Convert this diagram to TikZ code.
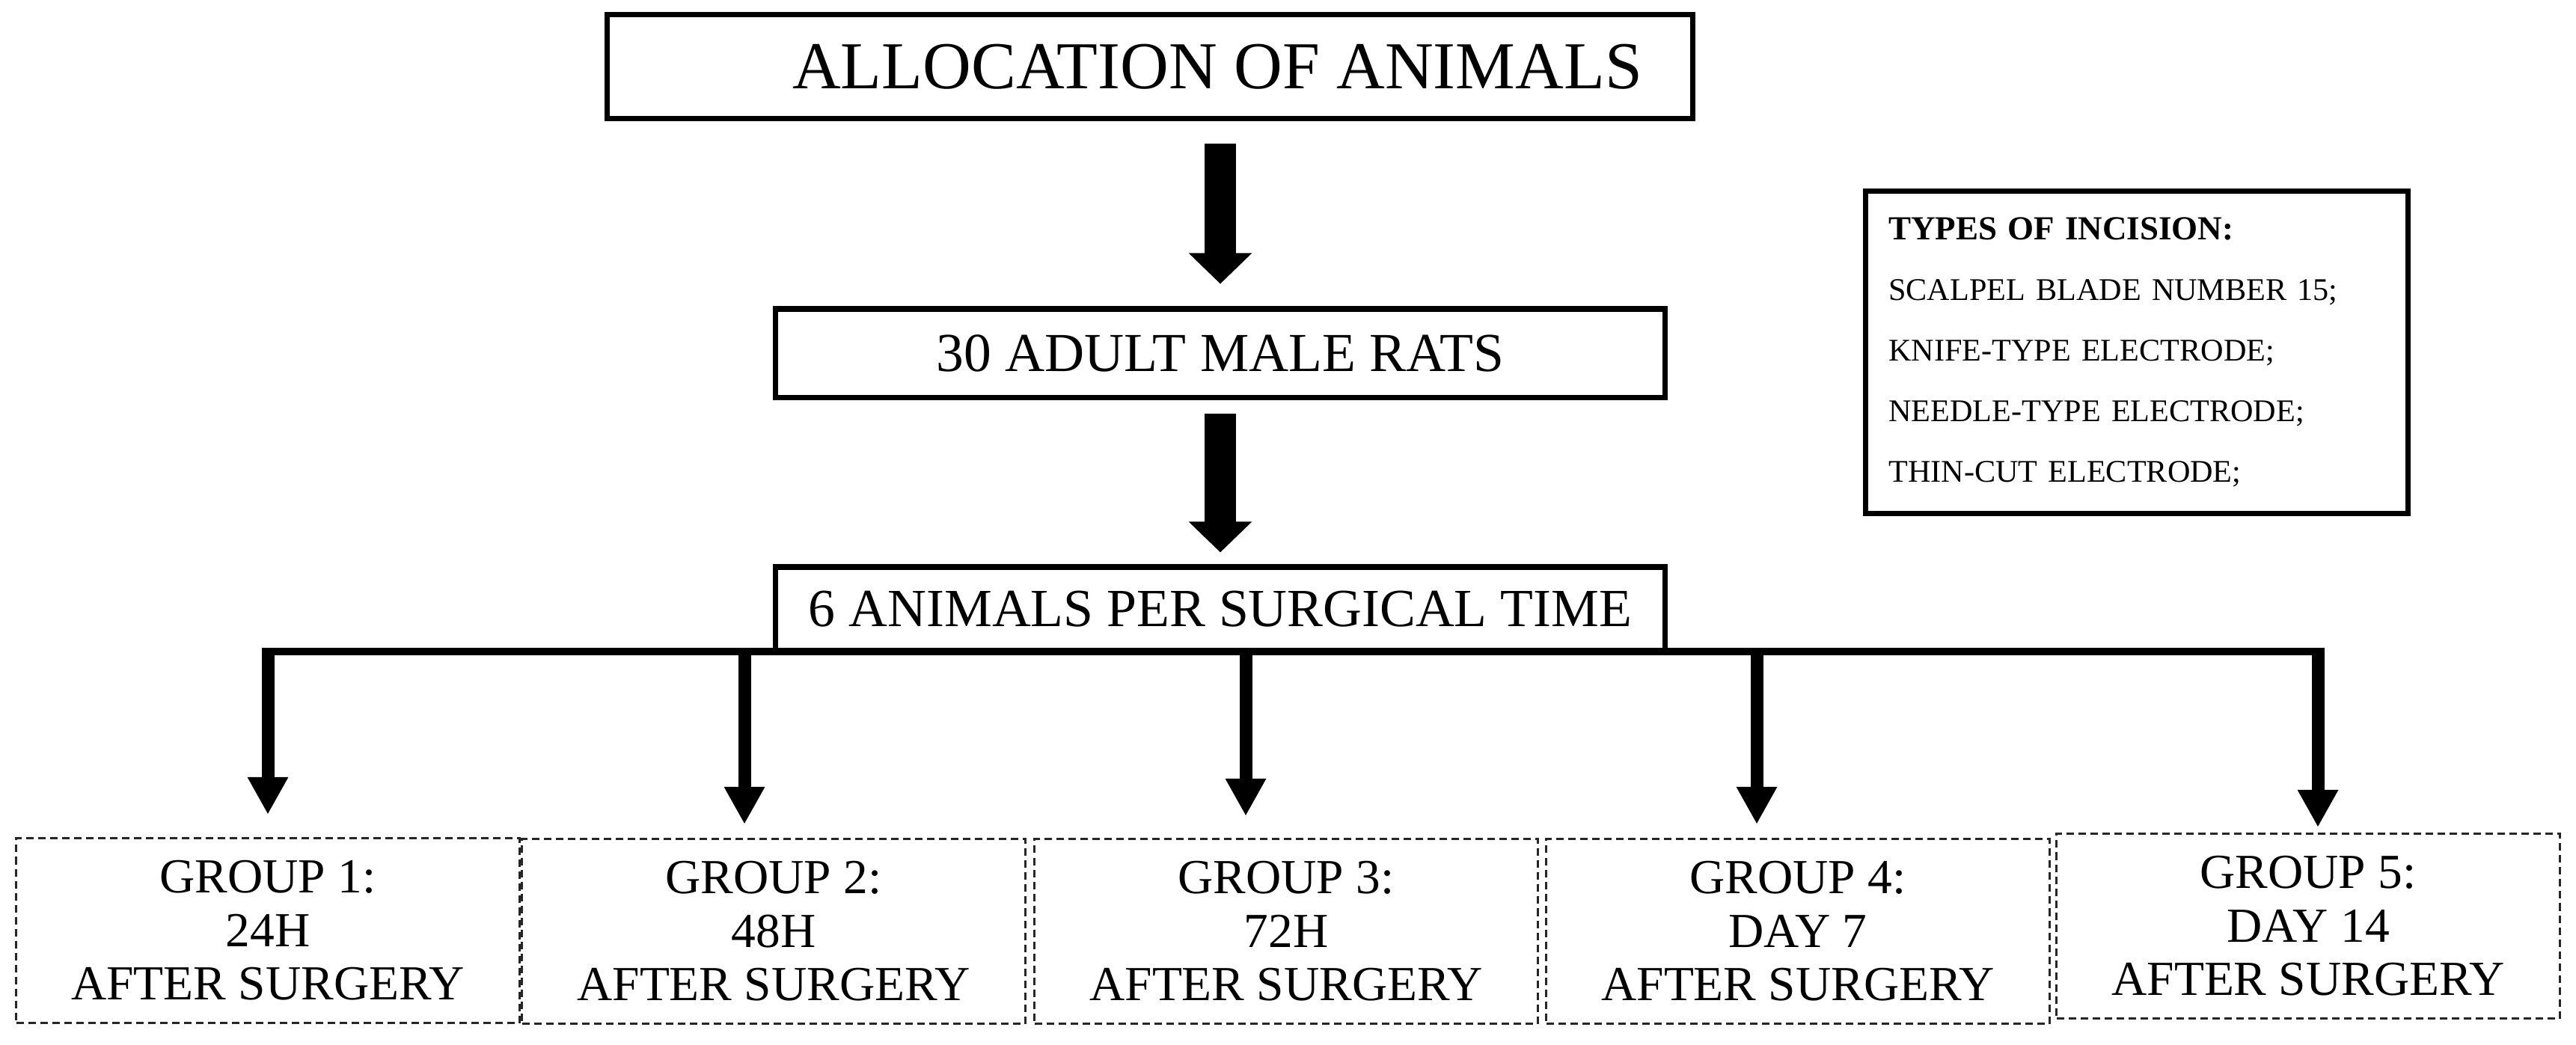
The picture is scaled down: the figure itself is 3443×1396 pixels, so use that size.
\documentclass[tikz,border=0pt]{standalone}
\usepackage{fontspec}
\setmainfont{Liberation Serif}
\usetikzlibrary{arrows.meta}
\begin{document}
\begin{tikzpicture}[x=0.01cm,y=-0.01cm,every node/.style={fill=white,inner sep=0pt},mbox/.style={draw,line width=2pt},gbox/.style={draw=black!85,dash pattern=on 0.1cm off 0.06cm,line width=0.9pt,minimum width=6.72cm,minimum height=2.47cm,align=center,font=\fontsize{18.6}{20.3}\selectfont},bigarrow/.style={-{Triangle[width=0.82cm,length=0.41cm]},line width=0.42cm},smallarrow/.style={-{Triangle[width=0.51cm,length=0.5cm]},line width=0.17cm}]
                \useasboundingbox (0,0) rectangle (3443,1396);
                \node[mbox,minimum width=14.5cm,minimum height=1.38cm,font=\fontsize{25.5}{30}\selectfont] (alloc) at (1537,89) {\hspace*{1.8cm}ALLOCATION OF ANIMALS};
                \node[mbox,minimum width=11.88cm,minimum height=1.18cm,font=\fontsize{20.9}{24}\selectfont] (rats) at (1631,472) {30 ADULT MALE RATS};
                \node[mbox,minimum width=11.88cm,minimum height=1.12cm,font=\fontsize{20.4}{24}\selectfont] (time) at (1631,814) {6 ANIMALS PER SURGICAL TIME};
                \node[mbox,minimum width=7.25cm,minimum height=4.31cm,inner xsep=0.31cm,text width=6.63cm,align=left,font=\fontsize{12}{23}\selectfont] (types) at (2856,471) {{\fontsize{12.8}{23}\selectfont\bfseries TYPES OF INCISION:}\\SCALPEL BLADE NUMBER 15;\\KNIFE-TYPE ELECTRODE;\\NEEDLE-TYPE ELECTRODE;\\THIN-CUT ELECTRODE;};
                \foreach \i/\x/\y/\mtime in {1/358/1244/24H,2/1034/1245/48H,3/1719/1245/72H,4/2403/1245/DAY 7,5/3085/1238/DAY 14} %nhóm
                \node[gbox] (g\i) at (\x,\y) {GROUP \i:\\\mtime\\AFTER SURGERY};
                \draw[bigarrow,shorten <=0.3cm,shorten >=0.3cm] (rats.north |- alloc.south) -- (rats.north);
                \draw[bigarrow,shorten <=0.18cm,shorten >=0.16cm] (rats.south) -- (time.north);
                \foreach \i/\x in {1/358,2/995,3/1665,4/2348,5/3098} \coordinate (b\i) at (\x,871); %thanh ngang
                \draw[line width=3pt] ([xshift=-0.085cm]b1) -- ([xshift=0.085cm]b5);
                \foreach \i/\mgap in {1/0.3,2/0.18,3/0.29,4/0.18,5/0.07}
                \draw[smallarrow,shorten >=\mgap cm] (b\i) -- (b\i |- g\i.north);
            \end{tikzpicture}
\end{document}
